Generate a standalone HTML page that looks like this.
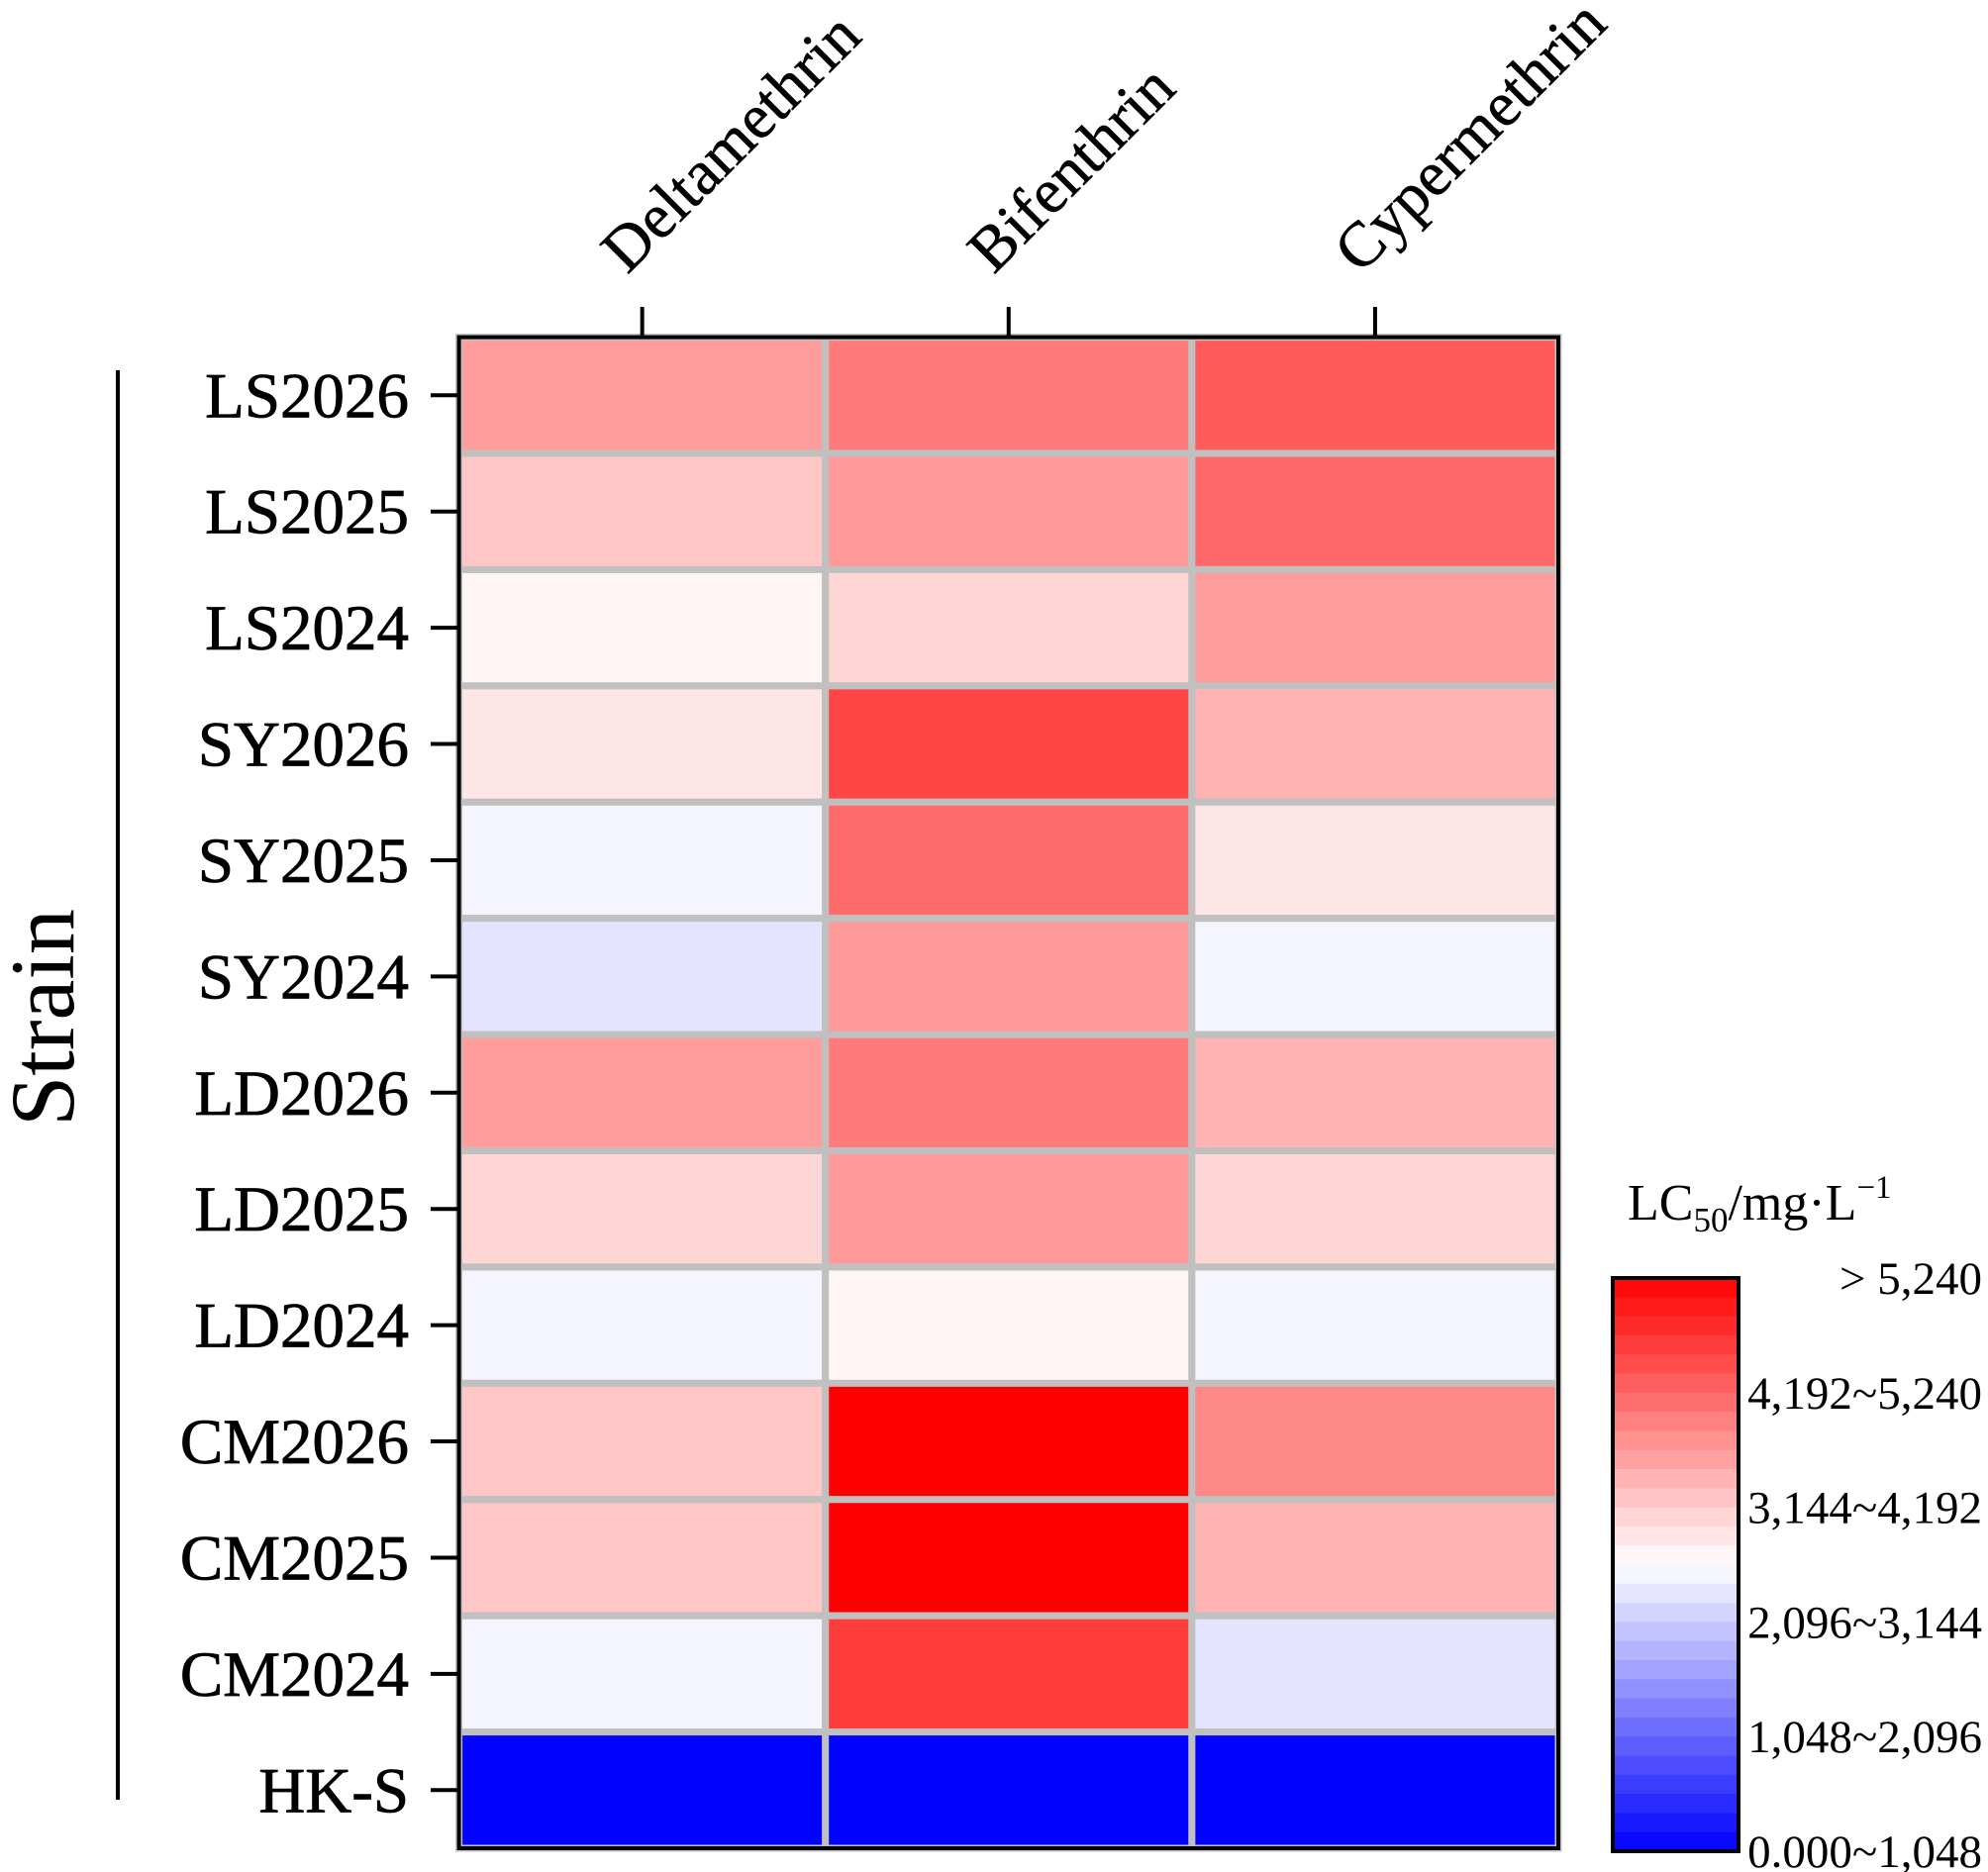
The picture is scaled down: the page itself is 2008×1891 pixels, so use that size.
<!DOCTYPE html>
<html><head><meta charset="utf-8"><style>
html,body{margin:0;padding:0;background:#fff;}
svg{display:block;font-family:"Liberation Serif",serif;}
</style></head><body>
<svg id="chart" width="2008" height="1891" viewBox="0 0 2008 1891" xmlns="http://www.w3.org/2000/svg"></svg>
<script>
const strains = ["LS2026","LS2025","LS2024","SY2026","SY2025","SY2024","LD2026","LD2025","LD2024","CM2026","CM2025","CM2024","HK-S"];
const insecticides = ["Deltamethrin","Bifenthrin","Cypermethrin"];
const deltamethrinLC50 = [3637,3206,2722,2877,2518,2342,3637,3041,2518,3206,3206,2518,20];
const bifenthrinLC50 = [3977,3658,3041,4531,4151,3658,3977,3658,2722,5800,5800,4634,20];
const cypermethrinLC50 = [4305,4171,3637,3401,2877,2518,3401,3041,2518,3843,3401,2342,20];
const legendLabels = ["> 5,240","4,192~5,240","3,144~4,192","2,096~3,144","1,048~2,096","0.000~1,048"];
const scaleMax = 5240;

const NS = "http://www.w3.org/2000/svg";
const svg = document.getElementById("chart");
function mk(tag, attrs, parent){const e=document.createElementNS(NS,tag);for(const k in attrs)e.setAttribute(k,attrs[k]);(parent||svg).appendChild(e);return e;}

const L=463.6,R=1574,T=340.6,B=1867;
const cw=(R-L)/insecticides.length, rh=(B-T)/strains.length;
function xPos(i){return L+i*cw;}
function yPos(j){return T+j*rh;}
function color(v){
  const mid=scaleMax/2;
  let t=Math.max(-1,Math.min(1,(v-mid)/mid));
  if(t>=0){const g=Math.round(255*(1-t));return `rgb(255,${g},${g})`;}
  const g=Math.round(255*(1+t));return `rgb(${g},${g},255)`;
}
const series=[deltamethrinLC50,bifenthrinLC50,cypermethrinLC50];
const g=mk("g",{});


series.forEach((arr,i)=>{arr.forEach((v,j)=>{
  const r=mk("rect",{x:xPos(i),y:yPos(j),width:cw,height:rh,fill:color(v),stroke:"#c0c0c0","stroke-width":7},g);
  
  
});});
const frame=mk("rect",{x:L,y:T,width:R-L,height:B-T,fill:"none",stroke:"#000","stroke-width":4});



strains.forEach((s,j)=>{
  const yc=yPos(j)+rh/2;
  const tk=mk("line",{x1:435,x2:L,y1:yc,y2:yc,stroke:"#000","stroke-width":4});
  
  
  const t=mk("text",{x:413,y:yc+22,"text-anchor":"end","font-size":65,stroke:"#000","stroke-width":0.8});
  t.textContent=s;
  
  
});
insecticides.forEach((s,i)=>{
  const xc=xPos(i)+cw/2;
  const tk=mk("line",{x1:xc,x2:xc,y1:310,y2:T,stroke:"#000","stroke-width":4});
  
  
  const t=mk("text",{x:0,y:0,"font-size":64,stroke:"#000","stroke-width":0.6,transform:`translate(${xc-15},${278}) rotate(-45)`});
  t.textContent=s;
  
  
});
const vl=mk("line",{x1:119,x2:119,y1:374,y2:1818,stroke:"#000","stroke-width":4});


const yt=mk("text",{x:0,y:0,"font-size":92,"text-anchor":"middle",transform:"translate(74,1028) rotate(-90)"});
yt.textContent="Strain";



// colorbar
const cL=1629,cR=1756,cT=1291,cB=1870,n=30;
const cb=mk("g",{});


for(let k=0;k<n;k++){
  const v=scaleMax*(1-(k+0.5)/n);
  const h=(cB-cT)/n;
  mk("rect",{x:cL,y:cT+k*h,width:cR-cL,height:h+0.6,fill:color(v)},cb);
}
mk("rect",{x:cL,y:cT,width:cR-cL,height:cB-cT,fill:"none",stroke:"#000","stroke-width":4},cb);
legendLabels.forEach((s,k)=>{
  const y=cT+k*(cB-cT)/(legendLabels.length-1);
  const t=mk("text",{x:2002,y:y+16,"text-anchor":"end","font-size":47});
  t.textContent=s;
  
  
});
const lt=mk("text",{x:1644,y:1232,"font-size":52});
lt.innerHTML='LC<tspan font-size="35" dy="12">50</tspan><tspan dy="-12">/mg·L</tspan><tspan font-size="33" dy="-22">−1</tspan>';


</script>
</body></html>
